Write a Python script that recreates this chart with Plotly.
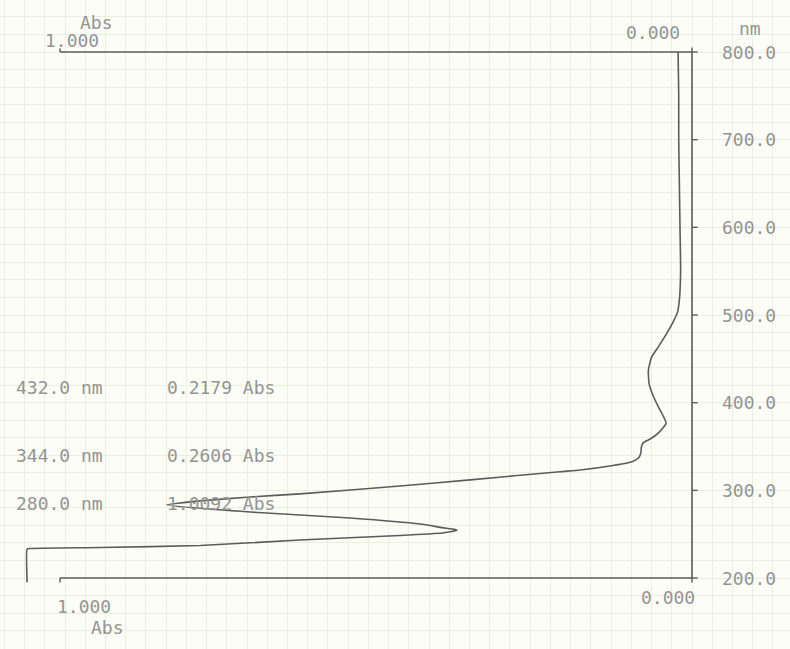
import plotly.graph_objects as go

# Spectrum: absorbance against wavelength (wavelength runs up the page)
wavelength_nm = [800, 750, 700, 650, 600, 550, 517, 503, 492, 479, 464, 452, 437, 422,
                 407, 395, 384, 376.5, 367, 359.4, 354.4, 349.8, 342.3, 336.6, 332.7,
                 327.8, 323.2, 321.3, 312, 305, 296, 292.4, 288, 283.3, 275.3, 268.5,
                 261.6, 257.5, 255.5, 254.5, 253, 251.3, 248.5, 243.4, 237.1, 234.8,
                 233.7, 233.1, 195]
absorbance = [0.022, 0.021, 0.021, 0.020, 0.019, 0.018, 0.020, 0.023, 0.030, 0.040,
              0.053, 0.064, 0.069, 0.068, 0.061, 0.053, 0.045, 0.041, 0.051, 0.064,
              0.077, 0.080, 0.081, 0.085, 0.095, 0.130, 0.177, 0.209, 0.351, 0.462,
              0.620, 0.699, 0.778, 0.831, 0.699, 0.541, 0.430, 0.395, 0.376, 0.372,
              0.380, 0.395, 0.462, 0.620, 0.778, 0.937, 1.047, 1.052, 1.052]

# Peak pick table
peak_nm = [432.0, 344.0, 280.0]
peak_abs = [0.2179, 0.2606, 1.0092]
peak_rows_y = [387, 455, 503]

# Axis settings
nm_ticks = [200, 300, 400, 500, 600, 700, 800]
abs_min, abs_max = 0.0, 1.0
nm_min, nm_max = 200, 800

W, H = 790, 649
INK = "#5c5c5c"
TEXT = "#949494"
FONT = "DejaVu Sans Mono"
FSIZE = 18


def pp(px, py):
    """pixel position -> paper coordinates"""
    return px / W, 1 - py / H


fig = go.Figure()

# chart frame: top, right and bottom edges
fig.add_trace(go.Scatter(
    x=[abs_max, abs_min, abs_min, abs_max],
    y=[nm_max, nm_max, nm_min, nm_min],
    mode="lines", line=dict(color=INK, width=1.6),
    hoverinfo="skip", showlegend=False))

fig.add_trace(go.Scatter(
    x=absorbance, y=wavelength_nm, mode="lines",
    line=dict(color=INK, width=1.6, shape="spline", smoothing=0.45),
    showlegend=False))

shapes = []
for t in nm_ticks:
    shapes.append(dict(type="line", xref="x", yref="y", x0=abs_min, x1=abs_min - 0.009,
                       y0=t, y1=t, line=dict(color=INK, width=1.4)))
# small corner marks
shapes.append(dict(type="line", xref="x", yref="y", x0=abs_min, x1=abs_min,
                   y0=nm_max, y1=nm_max + 5, line=dict(color=INK, width=1.4)))
shapes.append(dict(type="line", xref="x", yref="y", x0=abs_min, x1=abs_min,
                   y0=nm_min, y1=nm_min - 5, line=dict(color=INK, width=1.4)))
shapes.append(dict(type="line", xref="x", yref="y", x0=abs_max, x1=abs_max,
                   y0=nm_min, y1=nm_min - 5, line=dict(color=INK, width=1.4)))
shapes.append(dict(type="line", xref="x", yref="y", x0=abs_max, x1=abs_max,
                   y0=nm_max, y1=nm_max + 4, line=dict(color=INK, width=1.4)))

ann = []


def label(text, px, py, anchor="center"):
    x, y = pp(px, py)
    ann.append(dict(text=text, x=x, y=y, xref="paper", yref="paper",
                    xanchor=anchor, yanchor="middle", showarrow=False,
                    font=dict(family=FONT, size=FSIZE, color=TEXT)))


# wavelength scale labels
for t in nm_ticks:
    ann.append(dict(text=f"{t:.1f}", x=abs_min - 0.09, y=t, xref="x", yref="y",
                    xanchor="center", yanchor="middle", showarrow=False,
                    font=dict(family=FONT, size=FSIZE, color=TEXT)))
label("nm", 750, 28)

# absorbance range labels
label("Abs", 96, 23)
label(f"{abs_max:.3f}", 72, 40)
label(f"{abs_min:.3f}", 653, 33)
label(f"{abs_min:.3f}", 668, 597)
label(f"{abs_max:.3f}", 84, 606)
label("Abs", 107, 627)

# peak table
for nm, a, py in zip(peak_nm, peak_abs, peak_rows_y):
    label(f"{nm:.1f} nm", 14, py, anchor="left")
    label(f"{a:.4f} Abs", 165, py, anchor="left")

x_left = (692 - 0) / 632
x_right = (692 - W) / 632
y_top = 800 + 52 / 0.8767
y_bot = 800 - (H - 52) / 0.8767

fig.update_layout(
    width=W, height=H,
    margin=dict(l=0, r=0, t=0, b=0),
    paper_bgcolor="#fcfdf6",
    plot_bgcolor="#fcfdf6",
    xaxis=dict(range=[x_left, x_right], showticklabels=False, zeroline=False,
               showline=False, showgrid=True, gridcolor="#e9f0de", gridwidth=1,
               tick0=0, dtick=0.032, fixedrange=True),
    yaxis=dict(range=[y_bot, y_top], showticklabels=False, zeroline=False,
               showline=False, showgrid=True, gridcolor="#e9f0de", gridwidth=1,
               tick0=200, dtick=20, fixedrange=True),
    shapes=shapes,
    annotations=ann,
)

fig.write_html("out.html")
